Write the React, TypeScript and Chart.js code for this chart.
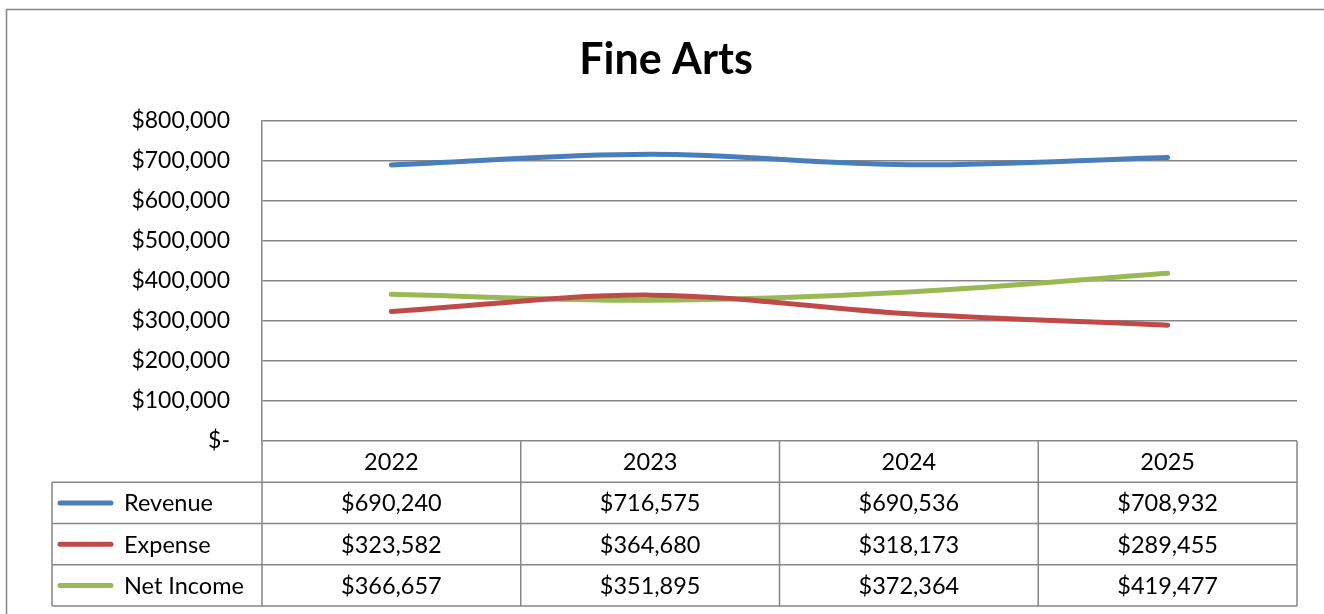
import React, { useEffect, useRef } from "react";
import { Chart, registerables } from "chart.js";

Chart.register(...registerables);

const years = ["2022", "2023", "2024", "2025"];
const revenue = [690240, 716575, 690536, 708932];
const expense = [323582, 364680, 318173, 289455];
const netIncome = [366657, 351895, 372364, 419477];
const seriesNames = ["Revenue", "Expense", "Net Income"];
const seriesColors = ["#4A7EBB", "#BE4B48", "#98B954"];
const yTickValues = [0, 100000, 200000, 300000, 400000, 500000, 600000, 700000, 800000];

const FONT = "Lato, 'Open Sans', sans-serif";
const GRID = "#868686";

const fmtMoney = (v: number) => (v === 0 ? "$-" : "$" + v.toLocaleString("en-US"));

const tablePlugin = {
  id: "dataTable",
  beforeDraw(chart: any) {
    const ctx = chart.ctx;
    ctx.save();
    ctx.fillStyle = "#ffffff";
    ctx.fillRect(0, 0, chart.width, chart.height);
    ctx.strokeStyle = GRID;
    ctx.lineWidth = 1.5;
    ctx.strokeRect(6.5, 9.5, 1400, 700);
    ctx.restore();
  },
  afterDraw(chart: any) {
    const ctx = chart.ctx;
    const area = chart.chartArea;
    const xs = chart.scales.x;
    const n = years.length;
    const centers = years.map((_, i) => xs.getPixelForValue(i));
    const bounds: number[] = [area.left];
    for (let i = 0; i < n - 1; i++) bounds.push((centers[i] + centers[i + 1]) / 2);
    bounds.push(area.right);
    const top = area.bottom;
    const bottom = 606;
    const rowH = (bottom - top) / 4;
    const legendLeft = 52;
    const series = [revenue, expense, netIncome];
    const fontSize = 23.5;

    ctx.save();
    ctx.strokeStyle = GRID;
    ctx.lineWidth = 1.5;
    ctx.beginPath();
    for (let r = 1; r <= 4; r++) {
      const y = top + rowH * r;
      ctx.moveTo(legendLeft, y);
      ctx.lineTo(area.right, y);
    }
    ctx.moveTo(legendLeft, top + rowH);
    ctx.lineTo(legendLeft, bottom);
    bounds.forEach((b) => {
      ctx.moveTo(b, top);
      ctx.lineTo(b, bottom);
    });
    ctx.stroke();

    ctx.fillStyle = "#000000";
    ctx.font = `${fontSize}px ${FONT}`;
    ctx.textBaseline = "alphabetic";
    ctx.textAlign = "center";
    const capOff = fontSize * 0.358;
    years.forEach((yr, i) => {
      ctx.fillText(yr, centers[i], top + rowH / 2 + capOff);
    });
    series.forEach((vals, r) => {
      const cy = top + rowH * (r + 1) + rowH / 2;
      vals.forEach((v, i) => {
        ctx.textAlign = "center";
        ctx.fillText(fmtMoney(v), centers[i], cy + capOff);
      });
      ctx.strokeStyle = seriesColors[r];
      ctx.lineWidth = 5;
      ctx.lineCap = "round";
      ctx.beginPath();
      ctx.moveTo(60, cy);
      ctx.lineTo(111, cy);
      ctx.stroke();
      ctx.textAlign = "left";
      ctx.fillText(seriesNames[r], 124, cy + capOff);
    });
    ctx.restore();
  },
};

export default function App() {
  const ref = useRef<HTMLCanvasElement | null>(null);
  useEffect(() => {
    if (!ref.current) return;
    const mk = (label: string, data: number[], color: string) => ({
      label,
      data,
      borderColor: color,
      backgroundColor: color,
      borderWidth: 5,
      tension: 0.35,
      pointRadius: 0,
      borderCapStyle: "round" as const,
      fill: false,
    });
    const chart = new Chart(ref.current, {
      type: "line",
      data: {
        labels: years,
        datasets: [
          mk(seriesNames[0], revenue, seriesColors[0]),
          mk(seriesNames[1], expense, seriesColors[1]),
          mk(seriesNames[2], netIncome, seriesColors[2]),
        ],
      },
      options: {
        responsive: false,
        animation: false,
        devicePixelRatio: 1,
        layout: { padding: { left: 35, right: 27, top: 0, bottom: 0 } },
        plugins: {
          legend: { display: false },
          tooltip: { enabled: false },
          title: {
            display: true,
            text: "Fine Arts",
            color: "#000000",
            font: { family: FONT, size: 43, weight: "bold", lineHeight: 1.2 },
            padding: { top: 34, bottom: 35.4 },
          },
        },
        scales: {
          x: {
            type: "category",
            offset: true,
            grid: { display: false },
            border: { display: false },
            ticks: { display: false },
            afterFit: (s: any) => {
              s.height = 173;
            },
          },
          y: {
            min: 0,
            max: 800000,
            afterBuildTicks: (s: any) => {
              s.ticks = yTickValues.map((v) => ({ value: v }));
            },
            grid: { color: GRID, lineWidth: 1.5, drawTicks: false },
            border: { display: true, color: GRID, width: 1.5 },
            ticks: {
              color: "#000000",
              padding: 32,
              font: { family: FONT, size: 23 },
              callback: (v: any) => fmtMoney(Number(v)),
            },
            afterFit: (s: any) => {
              s.width = 227;
            },
          },
        },
      },
      plugins: [tablePlugin],
    });
    return () => chart.destroy();
  }, []);
  return (
    <div style={{ position: "fixed", left: 0, top: 0, width: 1324, height: 614, background: "#fff" }}>
      <canvas ref={ref} width={1324} height={614} style={{ display: "block" }} />
    </div>
  );
}
